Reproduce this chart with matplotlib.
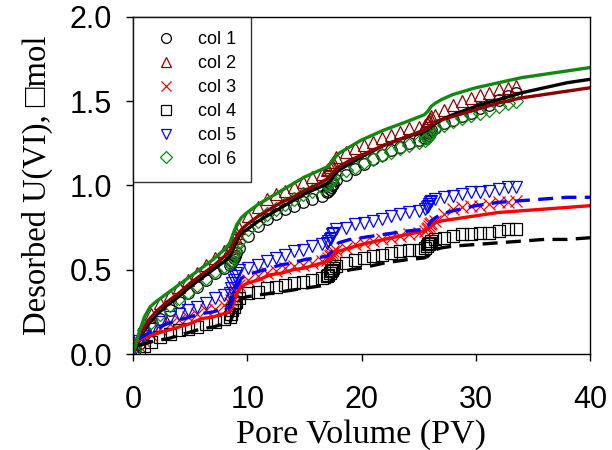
import matplotlib
matplotlib.use("Agg")
import matplotlib.pyplot as plt

# ---- measured data (markers) ----
pv = [0.1, 0.5, 1.0, 1.6, 2.4, 3.2, 4.0, 4.8, 5.6, 6.4, 7.2, 8.0,
      8.5, 8.6, 8.7, 8.8, 8.9, 9.0, 9.3, 10.1, 10.9, 11.7, 12.5, 13.3,
      14.1, 14.9, 15.7, 16.5, 17.0, 17.1, 17.2, 17.3, 17.4, 17.5, 17.8,
      18.6, 19.4, 20.2, 21.0, 21.8, 22.6, 23.4, 24.2, 25.0, 25.6, 25.7,
      25.8, 25.9, 26.0, 26.1, 26.4, 27.2, 28.0, 28.8, 29.6, 30.4, 31.2,
      32.0, 32.8, 33.5]

col1 = [0.02, 0.06, 0.11, 0.16, 0.21, 0.26, 0.31, 0.36, 0.40, 0.44, 0.48, 0.51,
        0.53, 0.54, 0.55, 0.57, 0.58, 0.60, 0.63, 0.70, 0.76, 0.80, 0.83, 0.86,
        0.88, 0.90, 0.92, 0.94, 0.96, 0.97, 0.98, 0.99, 1.00, 1.01, 1.03,
        1.06, 1.10, 1.13, 1.16, 1.18, 1.21, 1.23, 1.25, 1.27, 1.28, 1.29,
        1.30, 1.31, 1.32, 1.33, 1.34, 1.37, 1.39, 1.41, 1.43, 1.46, 1.48,
        1.51, 1.53, 1.55]
col2 = [0.03, 0.10, 0.18, 0.24, 0.30, 0.35, 0.40, 0.44, 0.48, 0.53, 0.57, 0.61,
        0.63, 0.65, 0.67, 0.69, 0.70, 0.72, 0.75, 0.82, 0.87, 0.92, 0.95, 0.97,
        0.99, 1.02, 1.05, 1.07, 1.09, 1.10, 1.11, 1.12, 1.13, 1.14, 1.17,
        1.20, 1.22, 1.24, 1.26, 1.28, 1.30, 1.32, 1.34, 1.35, 1.36, 1.37,
        1.38, 1.39, 1.40, 1.41, 1.42, 1.45, 1.48, 1.50, 1.52, 1.54, 1.55,
        1.57, 1.58, 1.59]
col3 = [0.01, 0.05, 0.08, 0.11, 0.15, 0.18, 0.20, 0.22, 0.24, 0.26, 0.27, 0.29,
        0.30, 0.32, 0.34, 0.36, 0.37, 0.39, 0.41, 0.44, 0.46, 0.48, 0.49, 0.51,
        0.52, 0.53, 0.54, 0.55, 0.56, 0.57, 0.58, 0.59, 0.60, 0.61, 0.62,
        0.63, 0.65, 0.66, 0.67, 0.68, 0.69, 0.70, 0.71, 0.72, 0.73, 0.74,
        0.75, 0.76, 0.77, 0.78, 0.79, 0.83, 0.86, 0.87, 0.88, 0.88, 0.89,
        0.90, 0.90, 0.91]
col4 = [0.01, 0.03, 0.05, 0.07, 0.10, 0.12, 0.14, 0.15, 0.16, 0.18, 0.19, 0.21,
        0.22, 0.24, 0.26, 0.28, 0.30, 0.31, 0.33, 0.36, 0.37, 0.39, 0.40, 0.41,
        0.42, 0.43, 0.44, 0.45, 0.46, 0.47, 0.48, 0.49, 0.50, 0.51, 0.52,
        0.54, 0.56, 0.57, 0.58, 0.59, 0.60, 0.61, 0.62, 0.62, 0.63, 0.64,
        0.65, 0.65, 0.66, 0.67, 0.68, 0.69, 0.70, 0.71, 0.71, 0.72, 0.72,
        0.73, 0.74, 0.74]
col5 = [0.02, 0.08, 0.12, 0.15, 0.19, 0.22, 0.24, 0.26, 0.28, 0.30, 0.33, 0.35,
        0.36, 0.39, 0.42, 0.44, 0.46, 0.48, 0.50, 0.51, 0.53, 0.55, 0.57, 0.59,
        0.61, 0.62, 0.64, 0.65, 0.66, 0.67, 0.68, 0.69, 0.71, 0.72, 0.74,
        0.75, 0.77, 0.78, 0.79, 0.80, 0.82, 0.83, 0.84, 0.85, 0.86, 0.87,
        0.88, 0.89, 0.90, 0.91, 0.92, 0.93, 0.94, 0.95, 0.96, 0.96, 0.97,
        0.98, 0.99, 0.99]
col6 = [0.02, 0.08, 0.14, 0.19, 0.24, 0.29, 0.33, 0.37, 0.41, 0.45, 0.49, 0.52,
        0.54, 0.56, 0.58, 0.60, 0.62, 0.64, 0.67, 0.74, 0.79, 0.83, 0.86, 0.89,
        0.92, 0.95, 0.97, 0.99, 1.00, 1.01, 1.02, 1.03, 1.04, 1.05, 1.07,
        1.09, 1.11, 1.14, 1.16, 1.18, 1.20, 1.22, 1.24, 1.26, 1.27, 1.28,
        1.29, 1.30, 1.31, 1.32, 1.34, 1.36, 1.38, 1.40, 1.42, 1.43, 1.45,
        1.47, 1.49, 1.50]

# ---- model curves ----
mx_hi = [0, 0.5, 1, 1.5, 2, 3, 4, 5, 6, 7, 8, 8.5, 8.8, 9.1, 9.5, 10, 11, 12,
         13, 14, 15, 16, 17, 17.3, 17.6, 18, 19, 20, 22, 24, 25.5, 25.8, 26.1,
         26.5, 27, 28, 30, 32, 34, 36, 38, 40]
fit1 = [0, 0.07, 0.14, 0.19, 0.23, 0.29, 0.34, 0.40, 0.45, 0.50, 0.55, 0.58,
        0.63, 0.68, 0.72, 0.74, 0.79, 0.83, 0.87, 0.91, 0.95, 0.98, 1.01, 1.03,
        1.06, 1.09, 1.13, 1.17, 1.24, 1.29, 1.32, 1.33, 1.35, 1.37, 1.39, 1.42,
        1.47, 1.51, 1.55, 1.58, 1.61, 1.63]
fit2 = [0, 0.09, 0.16, 0.21, 0.25, 0.31, 0.36, 0.42, 0.47, 0.52, 0.58, 0.61,
        0.66, 0.70, 0.74, 0.77, 0.82, 0.86, 0.90, 0.93, 0.97, 1.00, 1.04, 1.06,
        1.08, 1.11, 1.15, 1.18, 1.24, 1.29, 1.33, 1.34, 1.36, 1.38, 1.39, 1.41,
        1.45, 1.49, 1.52, 1.54, 1.56, 1.58]
fit6 = [0, 0.12, 0.22, 0.28, 0.31, 0.36, 0.41, 0.46, 0.51, 0.56, 0.62, 0.66,
        0.72, 0.77, 0.81, 0.84, 0.89, 0.93, 0.97, 1.01, 1.05, 1.08, 1.11, 1.13,
        1.16, 1.19, 1.23, 1.27, 1.33, 1.38, 1.42, 1.44, 1.47, 1.49, 1.51, 1.54,
        1.58, 1.61, 1.64, 1.66, 1.68, 1.70]

mx_lo = [0.5, 1, 1.5, 2, 3, 4, 5, 6, 7, 8, 8.5, 8.8, 9.1, 9.5, 10, 11, 12,
         13, 14, 15, 16, 17, 17.3, 17.6, 18, 19, 20, 22, 24, 25.5, 25.8, 26.1,
         26.5, 27, 28, 30, 32, 34, 36, 38, 40]
fit3 = [0.08, 0.10, 0.11, 0.12, 0.14, 0.16, 0.18, 0.21, 0.22, 0.24, 0.25,
        0.30, 0.36, 0.40, 0.42, 0.44, 0.47, 0.48, 0.50, 0.51, 0.53, 0.55, 0.56,
        0.59, 0.61, 0.63, 0.65, 0.68, 0.71, 0.73, 0.74, 0.76, 0.78, 0.79, 0.80,
        0.82, 0.84, 0.85, 0.86, 0.87, 0.88]
fit4 = [0.05, 0.06, 0.07, 0.08, 0.09, 0.11, 0.13, 0.15, 0.16, 0.18, 0.19,
        0.24, 0.30, 0.33, 0.34, 0.35, 0.36, 0.37, 0.38, 0.39, 0.40, 0.41, 0.43,
        0.46, 0.48, 0.50, 0.51, 0.54, 0.56, 0.57, 0.58, 0.60, 0.62, 0.63, 0.64,
        0.65, 0.66, 0.67, 0.68, 0.68, 0.69]
fit5 = [0.09, 0.11, 0.13, 0.15, 0.18, 0.20, 0.22, 0.24, 0.25, 0.27, 0.28,
        0.34, 0.40, 0.45, 0.47, 0.49, 0.51, 0.53, 0.54, 0.56, 0.57, 0.58, 0.60,
        0.63, 0.66, 0.68, 0.69, 0.71, 0.73, 0.74, 0.76, 0.79, 0.81, 0.83, 0.85,
        0.88, 0.90, 0.91, 0.92, 0.93, 0.93]

labels = ["col 1", "col 2", "col 3", "col 4", "col 5", "col 6"]
xticks = [0, 10, 20, 30, 40]
yticks = [0.0, 0.5, 1.0, 1.5, 2.0]

DRED = "#8b0000"
GREEN = "#118811"

fig = plt.figure(figsize=(6.12, 4.5), dpi=100)
ax = fig.add_axes([133/612, 1-354/450, (590-133)/612, (354-17)/450])

ms = 8.3
mew = 0.9
ax.plot(pv, col1, ls="none", marker="o", mfc="none", mec="black", ms=ms, mew=mew, label=labels[0])
ax.plot(pv, col2, ls="none", marker="^", mfc="none", mec=DRED, ms=ms, mew=mew, label=labels[1])
ax.plot(pv, col3, ls="none", marker="x", color="red", ms=ms, mew=mew, label=labels[2])
ax.plot(pv, col4, ls="none", marker="s", mfc="none", mec="black", ms=ms, mew=mew, label=labels[3])
ax.plot(pv, col5, ls="none", marker="v", mfc="none", mec="blue", ms=ms, mew=mew, label=labels[4])
ax.plot(pv, col6, ls="none", marker="D", mfc="none", mec=GREEN, ms=ms*0.85, mew=mew, label=labels[5])

lw = 2.4
dash = (0, (4.5, 2.5))
ax.plot(mx_hi, fit1, color="black", lw=lw)
ax.plot(mx_hi, fit2, color=DRED, lw=lw)
ax.plot(mx_lo, fit3, color="red", lw=lw)
ax.plot(mx_lo, fit4, color="black", lw=lw, ls=dash)
ax.plot(mx_lo, fit5, color="blue", lw=lw, ls=dash)
ax.plot(mx_hi, fit6, color=GREEN, lw=lw)

ax.set_xlim(0, 40)
ax.set_ylim(0, 2.0)
ax.set_xticks(xticks)
ax.set_yticks(yticks)
ax.set_xticklabels([str(t) for t in xticks])
ax.set_yticklabels([f"{t:.1f}" for t in yticks])
ax.tick_params(direction="out", length=5, width=1, top=False, right=False,
               labelsize=22)
ax.tick_params(axis="x", pad=17)
ax.tick_params(axis="y", pad=10)
for lab in ax.get_xticklabels() + ax.get_yticklabels():
    lab.set_fontfamily("Liberation Sans")
for sp in ax.spines.values():
    sp.set_linewidth(1.0)
    sp.set_color("black")

ax.set_xlabel("Pore Volume (PV)", fontsize=24.5, family="Liberation Serif", labelpad=3)
ax.set_ylabel("Desorbed U(VI), \u25a1mol", fontsize=23.5,
              family=["Liberation Serif", "DejaVu Sans"], labelpad=12)

leg = ax.legend(loc="upper left", bbox_to_anchor=(0, 1), borderaxespad=0,
                frameon=True, fancybox=False, edgecolor="black",
                prop={"family": "Liberation Sans", "size": 13},
                handlelength=2.07, handletextpad=0.74, labelspacing=0.38,
                borderpad=0.8, markerscale=0.85)
leg.get_frame().set_linewidth(1.0)

fig.savefig("out.png", dpi=100)
